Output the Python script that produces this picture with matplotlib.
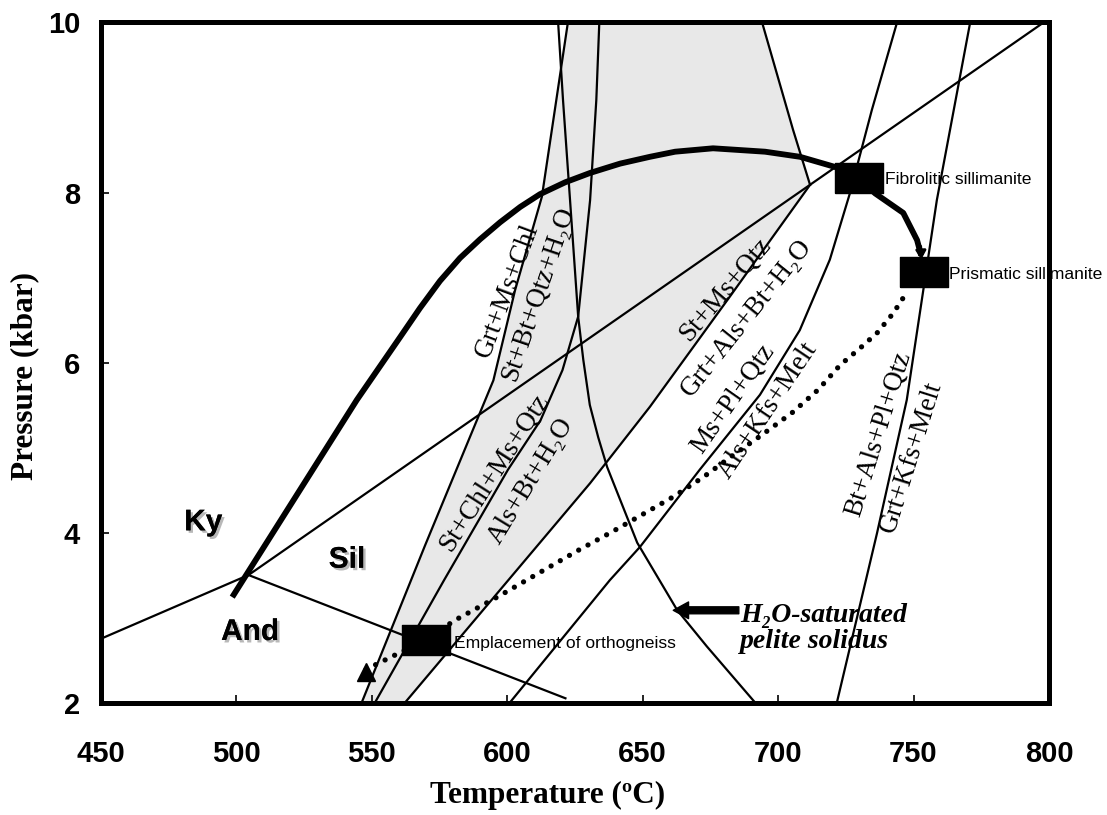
import numpy as np
import matplotlib
matplotlib.use("Agg")
import matplotlib.pyplot as plt
import matplotlib.patheffects as pe

plt.rcParams['font.family'] = ['Liberation Sans', 'DejaVu Sans']

# [1] Al2SiO5 triple point (T in degC, P in kbar)
ky_and_T = [450, 504.5]
ky_and_P = [2.75, 3.5]
ky_sil_T = [504.5, 798]
ky_sil_P = [3.5, 10]
and_sil_T = [504.5, 621.5]
and_sil_P = [3.5, 2.05]

# [2] reaction curves
st_in_T = [546.3, 569.7, 594.9, 602.9, 612.8, 616.5, 622.4]        # Grt+Ms+Chl = St+Bt+Qtz+H2O
st_in_P = [2.0, 3.85, 5.79, 6.85, 7.95, 8.74, 10]
st_chl_T = [551.2, 576.7, 600.3, 612.3, 620.4, 626.2, 630.6, 632.9, 634.0]  # St+Chl+Ms+Qtz = Als+Bt+H2O
st_chl_P = [2.0, 3.44, 4.74, 5.32, 5.91, 6.54, 7.91, 9.09, 10]
st_out_T = [562.3, 630.6, 652.7, 682.3, 711.8]                      # St+Ms+Qtz = Grt+Als+Bt+H2O
st_out_P = [2.0, 4.58, 5.48, 6.78, 8.09]
st_hi_T = [711.8, 705.5, 694.1]
st_hi_P = [8.09, 8.74, 10]
solidus_T = [618.8, 620.6, 623.2, 626.2, 628.1, 630.5, 633.6, 636.9, 648.0, 662.7, 673.7, 691.5]
solidus_P = [10, 9.09, 7.91, 6.54, 6.03, 5.50, 5.12, 4.77, 3.88, 3.09, 2.66, 2.0]
ms_melt_T = [601.0, 637.9, 649.0, 671.1, 693.3, 708.0, 719.1, 726.5, 734.6, 743.9]  # Ms+Pl+Qtz = Als+Kfs+Melt
ms_melt_P = [2.0, 3.44, 3.83, 4.74, 5.62, 6.38, 7.21, 7.99, 8.97, 10]
bt_melt_T = [721.7, 736.5, 747.5, 758.6, 770.9]                      # Bt+Als+Pl+Qtz = Grt+Kfs+Melt
bt_melt_P = [2.0, 3.99, 5.56, 7.91, 10]

# [3] P-T paths
path_T = [498.5, 544.5, 560.5, 567.8, 575.2, 582.6, 590.0, 597.4, 604.8, 612.1, 621.4, 630.6,
          641.7, 652.7, 662.0, 676.0, 695.2, 708.1, 721.1, 729.9, 735.8, 746.2, 751.3, 752.8]
path_P = [3.24, 5.56, 6.30, 6.64, 6.96, 7.23, 7.45, 7.65, 7.83, 7.98, 8.12, 8.23,
          8.34, 8.42, 8.48, 8.52, 8.48, 8.42, 8.30, 8.17, 7.99, 7.76, 7.44, 7.26]
dot_T = [547.9, 570.1, 580.8, 596.3, 611.5, 626.2, 638.8, 649.8, 661.3, 672.3,
         683.4, 694.1, 705.2, 714.8, 722.9, 730.3, 736.6, 742.5, 747.6]
dot_P = [2.39, 2.74, 2.97, 3.24, 3.52, 3.79, 4.01, 4.21, 4.42, 4.65,
         4.91, 5.15, 5.41, 5.68, 5.97, 6.17, 6.35, 6.58, 6.83]

# [4] sample boxes
box_T = [729.9, 753.7, 570.1]
box_P = [8.17, 7.06, 2.73]
box_names = ["Fibrolitic sillimanite", "Prismatic sillimanite", "Emplacement of orthogneiss"]

fig = plt.figure(figsize=(11.07, 8.15), dpi=100)
ax = fig.add_axes([0.0911, 0.138, 0.8565, 0.8344])

# staurolite field (gray)
fill_T = np.concatenate([st_in_T, st_hi_T[::-1], st_out_T[::-1]])
fill_P = np.concatenate([st_in_P, st_hi_P[::-1], st_out_P[::-1]])
ax.fill(fill_T, fill_P, color='#e8e8e8', zorder=0, lw=0)

lw = 1.6
for T, P in [(ky_and_T, ky_and_P), (ky_sil_T, ky_sil_P), (and_sil_T, and_sil_P),
             (st_in_T, st_in_P), (st_chl_T, st_chl_P), (st_out_T, st_out_P),
             (st_hi_T, st_hi_P), (solidus_T, solidus_P), (ms_melt_T, ms_melt_P),
             (bt_melt_T, bt_melt_P)]:
    ax.plot(T, P, color='k', lw=lw, zorder=2)

ax.plot(path_T, path_P, color='k', lw=4.2, solid_capstyle='butt', solid_joinstyle='round', zorder=3)
ax.annotate('', xy=(752.9, 7.18), xytext=(752.6, 7.40),
            arrowprops=dict(arrowstyle='-|>,head_length=0.5,head_width=0.3', color='k', lw=2), zorder=3)
ax.plot(dot_T, dot_P, color='k', lw=3.8, linestyle=(0, (0.01, 2.0)),
        dash_capstyle='round', zorder=3)
ax.plot(dot_T[0], dot_P[0] - 0.03, marker='^', color='k', ms=13, zorder=4)

rect = [(-1.58, -1), (1.58, -1), (1.58, 1), (-1.58, 1), (-1.58, -1)]
ax.plot(box_T, box_P, linestyle='none', marker=rect, ms=35, color='k', zorder=5)

box_text_pos = [(739.5, 8.15), (763.0, 7.04), (580.2, 2.70)]
for name, (tx, ty) in zip(box_names, box_text_pos):
    ax.text(tx, ty, name, fontsize=12.6, ha='left', va='center', zorder=6)

# field labels with shadow
shadow = [pe.withSimplePatchShadow(offset=(1.8, -1.8), shadow_rgbFace='#9a9a9a', alpha=0.7), pe.Normal()]
for name, tx, ty in [("Ky", 487.8, 4.12), ("Sil", 540.9, 3.68), ("And", 505.1, 2.83)]:
    ax.text(tx, ty, name, fontsize=21.5, fontweight='bold', ha='center', va='center',
            path_effects=shadow, zorder=6)

# reaction labels
serif = ['Liberation Serif', 'DejaVu Serif']
reactions = [
    ("Grt+Ms+Chl", 599.9, 6.85, 69.6),
    ("St+Bt+Qtz+H\u2082O", 611.5, 6.81, 71.4),
    ("St+Chl+Ms+Qtz", 595.2, 4.70, 57.3),
    ("Als+Bt+H\u2082O", 608.7, 4.60, 58.7),
    ("St+Ms+Qtz", 680.4, 6.86, 49.7),
    ("Grt+Als+Bt+H\u2082O", 688.5, 6.52, 51.3),
    ("Ms+Pl+Qtz", 683.4, 5.57, 55.0),
    ("Als+Kfs+Melt", 696.3, 5.44, 56.0),
    ("Bt+Als+Pl+Qtz", 737.3, 5.16, 72.7),
    ("Grt+Kfs+Melt", 749.1, 4.89, 72.5),
]
for name, tx, ty, rot in reactions:
    ax.text(tx, ty, name, family=serif, fontsize=19.5, rotation=rot, rotation_mode='anchor',
            ha='center', va='center', zorder=6)

# solidus label and arrow
ax.text(686.1, 2.87, "H\u2082O-saturated\npelite solidus", family=serif, fontsize=20,
        fontweight='bold', fontstyle='italic', ha='left', va='center', linespacing=1.05, zorder=6)
ax.annotate('', xy=(661.3, 3.085), xytext=(685.5, 3.085),
            arrowprops=dict(facecolor='k', edgecolor='k', width=5, headwidth=12, headlength=11, shrink=0),
            zorder=6)

ax.set_xlim(450, 800)
ax.set_ylim(2, 10)
ax.set_xticks(range(450, 801, 50))
ax.set_yticks([2, 4, 6, 8, 10])
ax.tick_params(direction='in', length=6, width=1.2, labelsize=21)
ax.tick_params(axis='x', pad=27)
ax.tick_params(axis='y', pad=15)
for lab in ax.get_xticklabels() + ax.get_yticklabels():
    lab.set_fontweight('bold')
for sp in ax.spines.values():
    sp.set_linewidth(3.6)

ax.set_xlabel("Temperature (\u00baC)", family=serif, fontsize=22.5, fontweight='bold', va='center')
ax.xaxis.set_label_coords(0.471, -0.136)
ax.set_ylabel("Pressure (kbar)", family=serif, fontsize=22.5, fontweight='bold', va='center')
ax.yaxis.set_label_coords(-0.08, 0.48)

fig.savefig("out.png", dpi=100)
